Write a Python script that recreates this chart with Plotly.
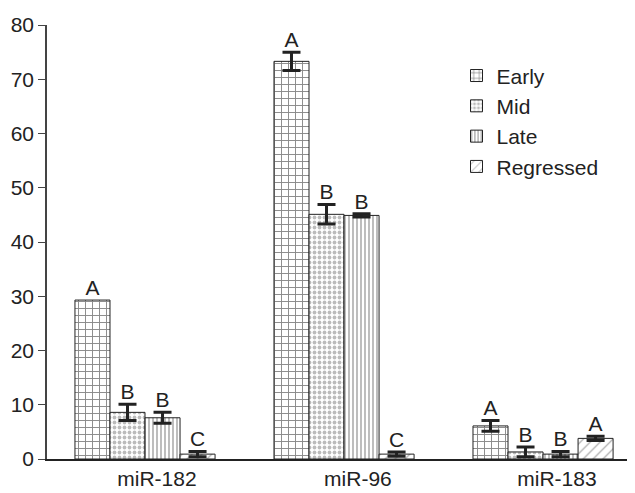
import plotly.graph_objects as go

categories = ["miR-182", "miR-96", "miR-183"]
series = ["Early", "Mid", "Late", "Regressed"]
values = {
    "Early": [29.3, 73.3, 6.1],
    "Mid": [8.6, 45.1, 1.3],
    "Late": [7.6, 44.9, 0.9],
    "Regressed": [0.9, 0.9, 3.8],
}
errors = {
    "Early": [None, 1.7, 1.0],
    "Mid": [1.5, 1.8, 0.9],
    "Late": [1.0, 0.3, 0.5],
    "Regressed": [0.5, 0.4, 0.4],
}
letters = {
    "Early": ["A", "A", "A"],
    "Mid": ["B", "B", "B"],
    "Late": ["B", "B", "B"],
    "Regressed": ["C", "C", "A"],
}

patterns = {
    "Early": dict(shape="+", size=7, solidity=0.25, fgcolor="#111", bgcolor="white"),
    "Mid": dict(shape=".", size=5, solidity=0.45, fgcolor="#777", bgcolor="white"),
    "Late": dict(shape="|", size=4, solidity=0.3, fgcolor="#222", bgcolor="white"),
    "Regressed": dict(shape="/", size=7, solidity=0.15, fgcolor="#333", bgcolor="white"),
}

FONT = "Arial, Liberation Sans, sans-serif"
w = 0.176
fig = go.Figure()
for j, s in enumerate(series):
    xs = [i + (j - 1.5) * w for i in range(len(categories))]
    fig.add_trace(go.Bar(
        x=xs, y=values[s], width=w, name=s,
        marker=dict(color="white", line=dict(color="#222", width=1), pattern=patterns[s]),
    ))
    # error bars only where an error value exists
    fig.add_trace(go.Scatter(
        x=xs, y=[v if e is not None else None for v, e in zip(values[s], errors[s])],
        mode="markers", marker=dict(opacity=0, size=1), showlegend=False, hoverinfo="skip",
        error_y=dict(type="data", array=[e if e is not None else 0 for e in errors[s]],
                     color="#222", thickness=3, width=9),
    ))
    tops = [v + (e or 0) for v, e in zip(values[s], errors[s])]
    fig.add_trace(go.Scatter(
        x=xs, y=tops, mode="text", text=letters[s], textposition="top center",
        textfont=dict(family=FONT, size=21, color="#222"), showlegend=False, hoverinfo="skip",
    ))

fig.update_layout(
    width=627, height=485, barmode="overlay",
    margin=dict(l=39, r=3, t=17, b=30),
    plot_bgcolor="white", paper_bgcolor="white",
    font=dict(family=FONT, size=21, color="#222"),
    legend=dict(x=0.70, y=0.93, xanchor="left", yanchor="top", font=dict(size=21),
                bgcolor="rgba(0,0,0,0)", itemwidth=30),
    xaxis=dict(range=[-0.4925, 2.447], tickvals=[0.06, 1.07, 2.07], ticktext=categories,
               showline=True, linecolor="#222", linewidth=1.5, ticks="", showgrid=False,
               zeroline=False, tickfont=dict(size=21)),
    yaxis=dict(range=[0, 80], dtick=10, showline=True, linecolor="#444", linewidth=1.5,
               ticks="outside", ticklen=7, tickcolor="#444", showgrid=False, zeroline=False,
               tickfont=dict(size=21)),
)
fig.write_html("out.html")
